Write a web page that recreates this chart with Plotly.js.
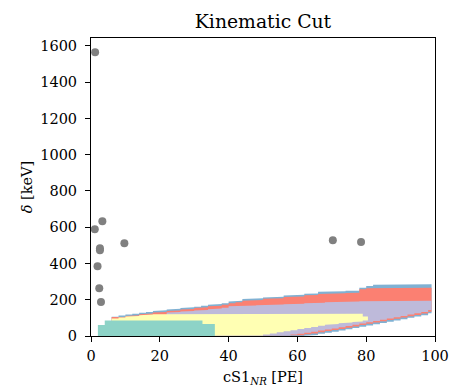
<!DOCTYPE html>
<html>
<head>
<meta charset="utf-8">
<script src="https://cdn.plot.ly/plotly-3.0.1.min.js"></script>
<style>html,body{margin:0;padding:0;background:#fff;}#chart{width:452px;height:390px;}</style>
</head>
<body>
<div id="chart"></div>
<script>
// Scatter events
const eventX = [1.2, 3.3, 1.1, 2.6, 2.6, 1.9, 2.4, 2.9, 9.7, 70.3, 78.5];
const eventY = [1565, 633, 589, 484, 473, 385, 263, 188, 511, 528, 519];

// Band 1 (blue, outermost)
const blueEdges = [6,8,10,12,14,16,18,20,22,24,26,28,30,32,34,36,38,40,42,44,46,48,50,52,54,56,58,60,62,64,66,68,70,72,74,76,78,80,82,84,86,88,90,92,94,96,98,99];
const blueHi = [106,113,118,123,128,133,138,142,146,150,154,158,162,167,172,176,181,190,194,204,206,208,213,214,216,224,225,227,233,235,244,245,246,247,249,250,266,276,283,285,285,285,285,285,285,285,285];
const blueLo = [0,0,0,0,0,0,0,0,0,0,0,0,0,0,0,0,0,0,0,0,0,0,0,0,0,0,0,0,2,6,12,18,24,30,37,44,51,58,65,72,79,86,93,100,107,115,125];

// Band 2 (salmon)
const salmonEdges = blueEdges;
const salmonHi = [105,104,110,114,120,124,130,133,138,141,146,149,154,158,164,167,173,181,186,195,198,199,205,205,208,215,217,218,225,226,232,233,235,236,237,238,258,263,265,266,266,266,266,266,266,266,266];
const salmonLo = [0,0,0,0,0,0,0,0,0,0,0,0,0,0,0,0,0,0,0,0,0,0,0,0,0,0,0,4,9,14,21,27,33,39,46,53,60,67,74,81,88,95,102,109,116,124,134];

// Band 3 (lavender)
const lavEdges = [22,24,26,28,30,32,34,36,38,40,42,44,46,48,50,52,54,56,58,60,62,64,66,68,70,72,74,76,78,80,82,84,86,88,90,92,94,96,98,99];
const lavHi = [129,132,135,138,141,144,148,152,156,164,165,167,168,170,171,172,174,175,177,178,180,182,184,186,187,188,189,190,192,193,195,195,195,195,195,195,195,195,195];
const lavLo = [0,0,0,0,0,0,0,0,0,0,0,0,0,0,0,0,0,3,8,13,18,23,30,36,42,48,55,62,69,76,83,90,97,104,111,118,125,133,143];

// Band 4 (yellow)
const yelEdges = [6,8,10,12,14,16,18,20,22,24,26,28,30,32,34,36,38,40,42,44,46,48,50,52,54,56,58,60,62,64,66,68,70,72,74,76,78,79,80.5];
const yelHi = [97,102,107,111,115,118,120,122,123,123,123,123,123,123,123,123,123,123,123,123,123,123,123,123,123,123,123,123,123,123,123,123,123,123,123,123,123,107];
const yelLo = [0,0,0,0,0,0,0,0,0,0,0,0,0,0,0,0,0,0,0,0,0,3,8,14,20,26,32,38,44,50,56,62,66,70,74,77,80,86];

// Band 5 (teal, innermost)
const tealEdges = [2,4,32.4,36];
const tealHi = [61,86,66];
const tealLo = [0,0,0];

function band(edges, hi, lo, color) {
  const xs = [], ys = [];
  for (let i = 0; i < hi.length; i++) { xs.push(edges[i], edges[i+1]); ys.push(hi[i], hi[i]); }
  for (let i = lo.length - 1; i >= 0; i--) { xs.push(edges[i+1], edges[i]); ys.push(lo[i], lo[i]); }
  return {x: xs, y: ys, type: 'scatter', mode: 'lines', fill: 'toself', fillcolor: color,
          line: {width: 0, color: color}, hoverinfo: 'skip', showlegend: false};
}

const data = [
  band(blueEdges, blueHi, blueLo, '#80b1d3'),
  band(salmonEdges, salmonHi, salmonLo, '#fb8072'),
  band(lavEdges, lavHi, lavLo, '#bebada'),
  band(yelEdges, yelHi, yelLo, '#ffffb3'),
  band(tealEdges, tealHi, tealLo, '#8dd3c7'),
  {x: eventX, y: eventY, type: 'scatter', mode: 'markers',
   marker: {color: '#808080', size: 8}, showlegend: false}
];

const FAM = '"DejaVu Serif", "Liberation Serif", serif';
const font = {family: FAM, color: '#000', size: 14.5};
const layout = {
  width: 452, height: 390,
  margin: {l: 91, r: 17, t: 38, b: 54},
  paper_bgcolor: '#fff', plot_bgcolor: '#fff',
  font: font,
  showlegend: false,
  title: {text: 'Kinematic Cut', font: {family: FAM, size: 18.8, color: '#000'},
          x: 0.5, xref: 'paper', y: 1 - 21.5/390, yref: 'container', yanchor: 'middle'},
  xaxis: {range: [0, 100], tickvals: [0,20,40,60,80,100], ticks: 'outside', ticklen: 5, tickwidth: 1,
          tickcolor: '#000', showline: true, linecolor: '#000', linewidth: 1, mirror: true,
          showgrid: false, zeroline: false, tickfont: font, ticklabelstandoff: 2,
          title: {text: 'cS1<sub><i>NR</i></sub> [PE]', font: font, standoff: 8}},
  yaxis: {range: [0, 1644], tickvals: [0,200,400,600,800,1000,1200,1400,1600], ticks: 'outside', ticklen: 5, tickwidth: 1,
          tickcolor: '#000', showline: true, linecolor: '#000', linewidth: 1, mirror: true,
          showgrid: false, zeroline: false, tickfont: font, ticklabelstandoff: 5,
          title: {text: '<i>δ</i> [keV]', font: font, standoff: 4}}
};

Plotly.newPlot('chart', data, layout, {displayModeBar: false, staticPlot: true});
</script>
</body>
</html>
